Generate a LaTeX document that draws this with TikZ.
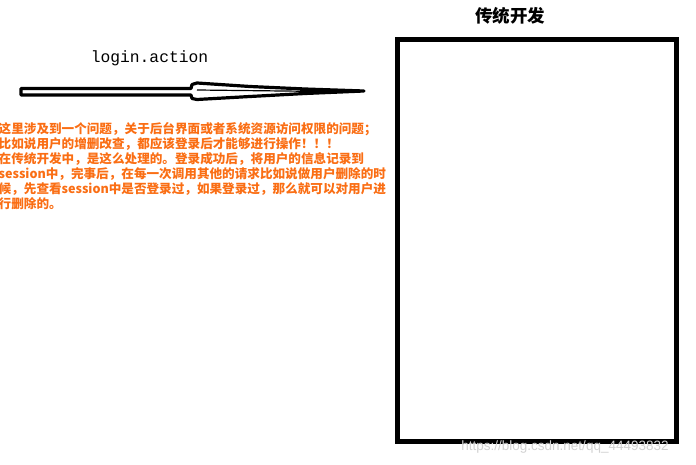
\documentclass[tikz,border=0pt]{standalone}
\usepackage{fontspec}
\newfontfamily\cjk{Noto Sans CJK SC}
\newfontfamily\monofont{Liberation Mono}
\newfontfamily\wmfont{Liberation Sans}
\definecolor{noteorange}{RGB}{250,110,20}
\tikzset{
  framebox/.style={draw=black, line width=4.8pt},
  arrowshape/.style={draw=black, fill=white, line width=3.2pt, line join=round},
  notetext/.style={text=noteorange, font=\cjk\bfseries\fontsize{12.6}{15}\selectfont, inner sep=0pt, anchor=base west},
  titletext/.style={font=\cjk\bfseries\fontsize{17.5}{20}\selectfont, inner sep=0pt},
  labeltext/.style={font=\monofont\fontsize{16.3}{18}\selectfont, inner sep=0pt},
  watermark/.style={text=black!18, font=\wmfont\fontsize{13.5}{15}\selectfont, inner sep=0pt}
}
\begin{document}
\begin{tikzpicture}[x=1pt,y=-1pt]
\useasboundingbox (0,0) rectangle (696,465);
% frame
\draw[framebox] (397.5,39.5) rectangle (676.5,441.8);
\node[titletext] (title) at (510,15.5) {传统开发};
% arrow
\coordinate (tail) at (20,91.5);
\coordinate (tip) at (364,91);
\draw[arrowshape] (21,88.5) -- (191,88.5) -- (192,84.5) -- (197,83) -- (250,86.5) -- (305,89) -- (tip) -- (305,93.5) -- (250,96.5) -- (197,99.5) -- (192,98.5) -- (191,95) -- (21,95) -- cycle;
\draw[line width=1.2pt] (197,90) -- (300,91.2);
\fill (300,88.5) -- (364,91) -- (300,94) -- cycle;
\node[labeltext] (label) at (149.5,58) {login.action};
% note
\node[notetext] (note1) at (-1.5,133.5) {这里涉及到一个问题，关于后台界面或者系统资源访问权限的问题；};
\node[notetext] (note2) at (-1.5,148.5) {比如说用户的增删改查，都应该登录后才能够进行操作！！！};
\node[notetext] (note3) at (-1.5,163.5) {在传统开发中，是这么处理的。登录成功后，将用户的信息记录到};
\node[notetext] (note4) at (-1.5,178.5) {session中，完事后，在每一次调用其他的请求比如说做用户删除的时};
\node[notetext] (note5) at (-1.5,193.5) {候，先查看session中是否登录过，如果登录过，那么就可以对用户进};
\node[notetext] (note6) at (-1.5,208.5) {行删除的。};
% watermark
\node[watermark] (wm) at (565,447) {https://blog.csdn.net/qq\_44493832};
\end{tikzpicture}
\end{document}
